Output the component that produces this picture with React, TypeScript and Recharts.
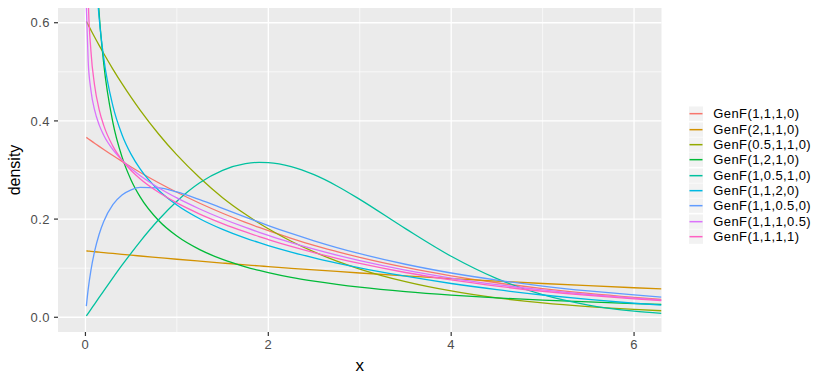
import { LineChart, Line, XAxis, YAxis, CartesianGrid, Legend } from 'recharts';

const FONT = '"Liberation Sans", Arial, Helvetica, sans-serif';

// x grid the densities were read at
const xValues = [0.01, 0.03, 0.06, 0.1, 0.15, 0.2, 0.3, 0.4, 0.5, 0.6, 0.8, 1, 1.25, 1.5, 1.75, 1.9, 2, 2.25, 2.5, 2.75, 3, 3.5, 4, 4.5, 5, 5.5, 6, 6.3];

const genF_1_1_1_0 = [0.3665, 0.3638, 0.3598, 0.3546, 0.3481, 0.3418, 0.3294, 0.3175, 0.3061, 0.295, 0.2741, 0.2546, 0.2323, 0.2119, 0.1932, 0.1829, 0.1763, 0.1608, 0.1463, 0.1338, 0.122, 0.1015, 0.0845, 0.0703, 0.0585, 0.0486, 0.0405, 0.0362];
const genF_2_1_1_0 = [0.1352, 0.1348, 0.1342, 0.1335, 0.1326, 0.1317, 0.13, 0.1282, 0.1265, 0.1248, 0.1215, 0.1182, 0.1143, 0.1105, 0.1068, 0.1047, 0.1032, 0.0998, 0.0965, 0.0933, 0.0902, 0.0843, 0.0788, 0.0736, 0.0688, 0.0643, 0.0601, 0.0577];
const genF_05_1_1_0 = [0.6029, 0.5956, 0.5849, 0.5708, 0.5538, 0.5372, 0.5056, 0.4759, 0.4479, 0.4215, 0.3734, 0.3307, 0.2842, 0.2437, 0.2098, 0.1916, 0.1803, 0.1549, 0.1332, 0.1144, 0.0983, 0.0726, 0.0536, 0.0396, 0.0292, 0.0216, 0.0159, 0.0133];
const genF_1_2_1_0 = [2.8542, 1.5763, 1.0671, 0.7916, 0.6191, 0.517, 0.3972, 0.3267, 0.2793, 0.2447, 0.1971, 0.1654, 0.1377, 0.1178, 0.1028, 0.0954, 0.091, 0.0812, 0.0735, 0.0669, 0.0612, 0.0521, 0.0451, 0.0395, 0.0349, 0.0312, 0.028, 0.0264];
const genF_1_05_1_0 = [0.0027, 0.0081, 0.0162, 0.027, 0.0405, 0.0538, 0.0802, 0.106, 0.1308, 0.1547, 0.1986, 0.2364, 0.2739, 0.2994, 0.313, 0.3155, 0.315, 0.307, 0.2904, 0.2675, 0.2402, 0.1805, 0.1242, 0.0786, 0.0459, 0.0248, 0.0124, 0.0079];
const genF_1_1_2_0 = [2.3658, 1.3659, 0.9657, 0.7479, 0.6104, 0.5283, 0.4306, 0.372, 0.3318, 0.3017, 0.2588, 0.2287, 0.2007, 0.179, 0.1612, 0.1519, 0.1461, 0.1329, 0.1211, 0.1105, 0.1007, 0.0836, 0.0688, 0.0562, 0.0454, 0.0363, 0.0286, 0.0246];
const genF_1_1_05_0 = [0.0227, 0.0569, 0.0956, 0.1341, 0.1692, 0.1951, 0.2294, 0.249, 0.2597, 0.2645, 0.2637, 0.2552, 0.2395, 0.2219, 0.204, 0.1936, 0.1868, 0.1707, 0.1558, 0.1421, 0.1296, 0.108, 0.0902, 0.0756, 0.0636, 0.0537, 0.0455, 0.0412];
const genF_1_1_1_05 = [0.6307, 0.5219, 0.4625, 0.4223, 0.3919, 0.3709, 0.3415, 0.3202, 0.303, 0.2884, 0.2639, 0.2431, 0.2206, 0.2007, 0.1829, 0.173, 0.1667, 0.1521, 0.1387, 0.1265, 0.1154, 0.096, 0.0799, 0.0666, 0.0556, 0.0464, 0.0389, 0.035];
const genF_1_1_1_1 = [0.8775, 0.6536, 0.5426, 0.4727, 0.4232, 0.3909, 0.3486, 0.3203, 0.299, 0.2818, 0.2546, 0.2329, 0.2103, 0.1909, 0.1738, 0.1643, 0.1584, 0.1444, 0.1317, 0.1202, 0.1096, 0.0912, 0.076, 0.0634, 0.053, 0.0444, 0.0374, 0.0338];

const seriesNames = [
  'GenF(1,1,1,0)',
  'GenF(2,1,1,0)',
  'GenF(0.5,1,1,0)',
  'GenF(1,2,1,0)',
  'GenF(1,0.5,1,0)',
  'GenF(1,1,2,0)',
  'GenF(1,1,0.5,0)',
  'GenF(1,1,1,0.5)',
  'GenF(1,1,1,1)',
];
const seriesValues = [
  genF_1_1_1_0, genF_2_1_1_0, genF_05_1_1_0, genF_1_2_1_0, genF_1_05_1_0,
  genF_1_1_2_0, genF_1_1_05_0, genF_1_1_1_05, genF_1_1_1_1,
];
const seriesColors = ['#F8766D', '#D39200', '#93AA00', '#00BA38', '#00C19F', '#00B9E3', '#619CFF', '#DB72FB', '#FF61C3'];

const xTicks = [0, 2, 4, 6];
const xMinor = [1, 3, 5];
const yTicks = [0, 0.2, 0.4, 0.6];
const yMinor = [0.1, 0.3, 0.5];

const rows = xValues.map((x, i) => {
  const row: Record<string, number> = { x };
  seriesValues.forEach((vals, s) => {
    row[`s${s}`] = vals[i];
  });
  return row;
});

const ROW_H = 15.34;

const GgLegend = () => (
  <div style={{ fontFamily: FONT, fontSize: 13, color: '#000000' }}>
    {seriesNames.map((name, i) => (
      <div key={name} style={{ display: 'flex', alignItems: 'center', height: ROW_H }}>
        <svg width={14} height={ROW_H} style={{ display: 'block' }}>
          <rect x={0} y={0.5} width={14} height={ROW_H - 1} fill="#F2F2F2" />
          <line x1={0.5} x2={13.5} y1={ROW_H / 2} y2={ROW_H / 2} stroke={seriesColors[i]} strokeWidth={1.5} />
        </svg>
        <span style={{ marginLeft: 10.3, letterSpacing: 0.4, lineHeight: 1, whiteSpace: 'nowrap' }}>{name}</span>
      </div>
    ))}
  </div>
);

const XTitle = () => (
  <text x={359.8} y={370.7} textAnchor="middle" fontFamily={FONT} fontSize={17} fill="#000000">
    x
  </text>
);

const YTitle = () => (
  <text
    x={19.7}
    y={170}
    textAnchor="middle"
    fontFamily={FONT}
    fontSize={16}
    fill="#000000"
    transform="rotate(-90, 19.7, 170)"
  >
    density
  </text>
);

const tickStyle = { fill: '#4D4D4D', fontSize: 13, fontFamily: FONT, letterSpacing: 0.5 };

export default function App() {
  return (
    <div style={{ position: 'absolute', left: 0, top: 0, width: 830, height: 383, background: '#FFFFFF' }}>
      <LineChart width={830} height={383} data={rows} margin={{ top: 8, right: 168.5, bottom: 0, left: 0 }}>
        <CartesianGrid
          fill="#EBEBEB"
          fillOpacity={1}
          stroke="#FFFFFF"
          strokeWidth={0.65}
          horizontalValues={yMinor}
          verticalValues={xMinor}
        />
        <CartesianGrid stroke="#FFFFFF" strokeWidth={1.3} horizontalValues={yTicks} verticalValues={xTicks} />
        <XAxis
          type="number"
          dataKey="x"
          domain={[-0.3, 6.3]}
          ticks={xTicks}
          allowDataOverflow
          axisLine={false}
          tickLine={{ stroke: '#333333', strokeWidth: 1.2 }}
          tickSize={4}
          tickMargin={3.5}
          height={51}
          tick={tickStyle}
          label={<XTitle />}
        />
        <YAxis
          type="number"
          domain={[-0.03, 0.63]}
          ticks={yTicks}
          allowDataOverflow
          axisLine={false}
          tickLine={{ stroke: '#333333', strokeWidth: 1.2 }}
          tickSize={4}
          tickMargin={4}
          width={58}
          tick={tickStyle}
          tickFormatter={(v: number) => v.toFixed(1)}
          label={<YTitle />}
        />
        {seriesNames.map((name, s) => (
          <Line
            key={name}
            name={name}
            dataKey={`s${s}`}
            type="monotone"
            stroke={seriesColors[s]}
            strokeWidth={1.3}
            dot={false}
            activeDot={false}
            isAnimationActive={false}
          />
        ))}
        <Legend
          content={() => <GgLegend />}
          layout="vertical"
          align="center"
          verticalAlign="middle"
          wrapperStyle={{ left: 689, top: 106.3, width: 140 }}
        />
      </LineChart>
    </div>
  );
}
